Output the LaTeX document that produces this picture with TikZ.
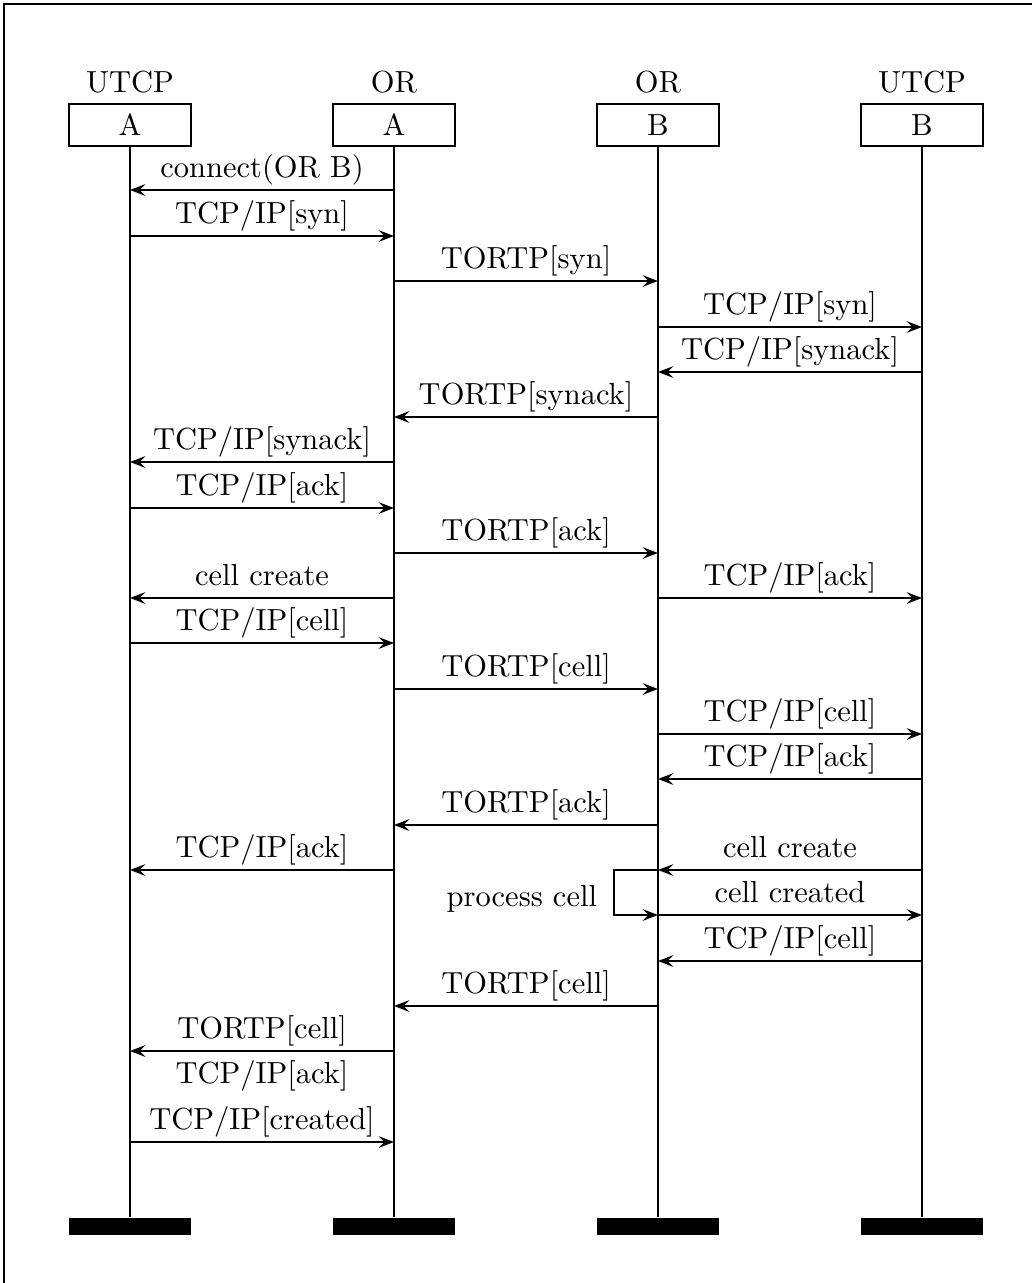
\documentclass[tikz,border=0pt]{standalone}
\usetikzlibrary{arrows.meta}
\begin{document}
\begin{tikzpicture}[
    x=0.3279pt, y=-0.3279pt,
    line width=0.65pt,
    inst/.style={
      draw,
      minimum width=40pt,
      minimum height=13.8pt,
      inner sep=0pt
    },
    instname/.style={anchor=base, inner sep=0pt},
    bar/.style={fill=black, minimum width=40pt, minimum height=5.6pt, inner sep=0pt},
    msg/.style={-{Stealth[length=5pt, width=3.8pt, inset=1.8pt]}},
    lbl/.style={above, inner sep=1.3pt, text depth=2.5pt}
  ]
  \useasboundingbox (0,0) rectangle (1032,1283);
  \draw (4,4) rectangle (1045,1295);

  % instances
  \node[instname] (uAname) at (130,92) {UTCP};
  \node[instname] (orAname) at (394,92) {OR};
  \node[instname] (orBname) at (658,92) {OR};
  \node[instname] (uBname) at (922,92) {UTCP};
  \node[inst] (uA) at (130,125) {A};
  \node[inst] (orA) at (394,125) {A};
  \node[inst] (orB) at (658,125) {B};
  \node[inst] (uB) at (922,125) {B};
  \node[bar] (endA) at (130,1226.5) {};
  \node[bar] (endorA) at (394,1226.5) {};
  \node[bar] (endorB) at (658,1226.5) {};
  \node[bar] (endB) at (922,1226.5) {};

  \draw (uA.south) -- (endA.north);
  \draw (orA.south) -- (endorA.north);
  \draw (orB.south) -- (endorB.north);
  \draw (uB.south) -- (endB.north);

  % messages
  \draw[msg] (orA |- 0,190) -- node[lbl] {connect(OR B)} (uA |- 0,190);
  \draw[msg] (uA |- 0,236) -- node[lbl] {TCP/IP[syn]} (orA |- 0,236);
  \draw[msg] (orA |- 0,281) -- node[lbl] {TORTP[syn]} (orB |- 0,281);
  \draw[msg] (orB |- 0,327) -- node[lbl] {TCP/IP[syn]} (uB |- 0,327);
  \draw[msg] (uB |- 0,372) -- node[lbl] {TCP/IP[synack]} (orB |- 0,372);
  \draw[msg] (orB |- 0,417) -- node[lbl] {TORTP[synack]} (orA |- 0,417);
  \draw[msg] (orA |- 0,462) -- node[lbl] {TCP/IP[synack]} (uA |- 0,462);
  \draw[msg] (uA |- 0,508) -- node[lbl] {TCP/IP[ack]} (orA |- 0,508);
  \draw[msg] (orA |- 0,553) -- node[lbl] {TORTP[ack]} (orB |- 0,553);
  \draw[msg] (orA |- 0,598) -- node[lbl] {cell create} (uA |- 0,598);
  \draw[msg] (orB |- 0,598) -- node[lbl] {TCP/IP[ack]} (uB |- 0,598);
  \draw[msg] (uA |- 0,643) -- node[lbl] {TCP/IP[cell]} (orA |- 0,643);
  \draw[msg] (orA |- 0,689) -- node[lbl] {TORTP[cell]} (orB |- 0,689);
  \draw[msg] (orB |- 0,734) -- node[lbl] {TCP/IP[cell]} (uB |- 0,734);
  \draw[msg] (uB |- 0,779) -- node[lbl] {TCP/IP[ack]} (orB |- 0,779);
  \draw[msg] (orB |- 0,825) -- node[lbl] {TORTP[ack]} (orA |- 0,825);
  \draw[msg] (orA |- 0,870) -- node[lbl] {TCP/IP[ack]} (uA |- 0,870);
  \draw[msg] (uB |- 0,870) -- node[lbl] {cell create} (orB |- 0,870);
  \draw[msg] (orB |- 0,870) -- (614,870) -- (614,915)
    -- (orB |- 0,915);
  \node[anchor=base east, inner sep=0pt] (proc) at (598,906) {process cell};
  \draw[msg] (orB |- 0,915) -- node[lbl] {cell created} (uB |- 0,915);
  \draw[msg] (uB |- 0,961) -- node[lbl] {TCP/IP[cell]} (orB |- 0,961);
  \draw[msg] (orB |- 0,1006) -- node[lbl] {TORTP[cell]} (orA |- 0,1006);
  \draw[msg] (orA |- 0,1051) -- node[lbl] {TORTP[cell]} (uA |- 0,1051);
  \path (uA |- 0,1096) -- node[lbl] {TCP/IP[ack]} (orA |- 0,1096);
  \draw[msg] (uA |- 0,1142) -- node[lbl] {TCP/IP[created]} (orA |- 0,1142);
\end{tikzpicture}
\end{document}
